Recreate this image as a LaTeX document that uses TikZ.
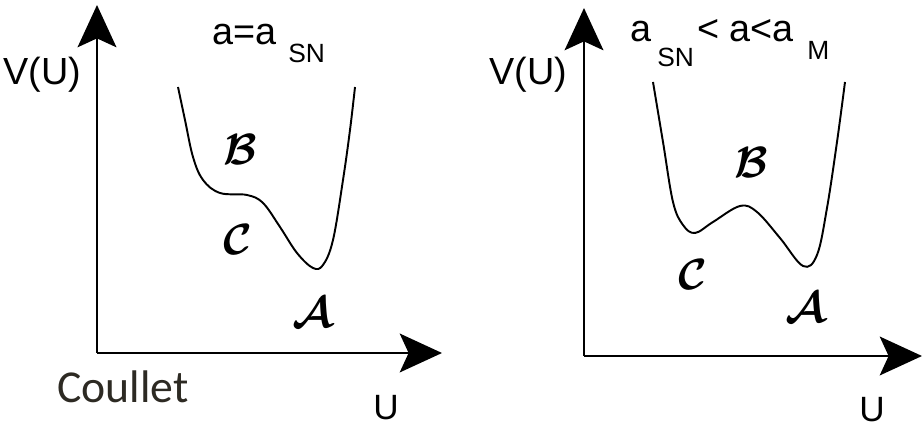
\documentclass[tikz,border=0pt]{standalone}
\usepackage{bm}
\usepackage{fontspec}
\setmainfont{Liberation Sans}
\newfontfamily\coulletfont{Carlito}
\usetikzlibrary{arrows.meta}
\definecolor{coulletgray}{RGB}{45,42,35}
\tikzset{
  axis/.style={line width=1.7pt, -{Stealth[length=24pt, width=22pt, inset=5pt]}},
  potential/.style={line width=1.1pt, line join=round},
  axislabel/.style={inner sep=0pt, font=\fontsize{21.5}{24}\selectfont},
  sublabel/.style={inner sep=0pt, font=\fontsize{15}{17}\selectfont},
  ulabel/.style={inner sep=0pt, font=\fontsize{20}{22}\selectfont},
  wellname/.style={inner sep=0pt, font=\fontsize{23}{25}\selectfont},
}
\begin{document}
\begin{tikzpicture}[x=0.02cm, y=-0.02cm]
  \useasboundingbox (0,0) rectangle (924,428);
  % Left panel: a = a_SN
  \coordinate (OL) at (97,353);
  \coordinate (YL) at (97,5);
  \coordinate (XL) at (442,353);
  \draw[axis] (OL) -- (YL);
  \draw[axis] (OL) -- (XL);
  \draw[potential] plot[smooth, tension=0.6] coordinates {
    (178,87) (185,120) (193,157) (203,180) (220,193) (247,195) (263,203)
    (280,227) (297,253) (313,268) (323,265) (333,240) (343,180) (350,130) (355,87)};
  \node[axislabel, anchor=base west] (VL) at (3,85) {V(U)};
  \node[ulabel, anchor=base west] (UL) at (373,420) {U};
  \node[axislabel, anchor=base west] (titleL) at (212,45) {a=a};
  \node[sublabel, anchor=base west] (subL) at (288,63) {SN};
  \node[wellname] (BL) at (240,150) {$\bm{\mathcal{B}}$};
  \node[wellname] (CL) at (238,240) {$\bm{\mathcal{C}}$};
  \node[wellname] (AL) at (313,313) {$\bm{\mathcal{A}}$};
  \node[inner sep=0pt, anchor=base west, text=coulletgray,
        font=\coulletfont\fontsize{26}{28}\selectfont] (coullet) at (57,403) {Coullet};
  % Right panel: a_SN < a < a_M
  \coordinate (OR) at (584,356);
  \coordinate (YR) at (584,8);
  \coordinate (XR) at (922,356);
  \draw[axis] (OR) -- (YR);
  \draw[axis] (OR) -- (XR);
  \draw[potential] plot[smooth, tension=0.6] coordinates {
    (653,82) (663,142) (673,202) (683,225) (695,233) (713,222) (740,206)
    (757,212) (780,238) (803,266) (817,255) (827,208) (837,142) (845,82)};
  \node[axislabel, anchor=base west] (VR) at (489,85) {V(U)};
  \node[ulabel, anchor=base west] (UR) at (859,422) {U};
  \node[axislabel, anchor=base west] (titleRa) at (630,42) {a};
  \node[sublabel, anchor=base west] (subRsn) at (657,67) {SN};
  \node[axislabel, anchor=base west] (titleRb) at (697,42) {< a<a};
  \node[sublabel, anchor=base west] (subRm) at (807,60) {M};
  \node[wellname] (BR) at (751,163) {$\bm{\mathcal{B}}$};
  \node[wellname] (CR) at (693,275) {$\bm{\mathcal{C}}$};
  \node[wellname] (AR) at (806,308) {$\bm{\mathcal{A}}$};
\end{tikzpicture}
\end{document}
